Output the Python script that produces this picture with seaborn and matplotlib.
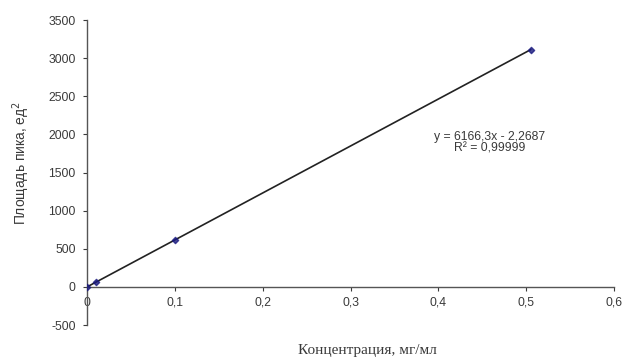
import numpy as np
import pandas as pd
import matplotlib
matplotlib.use('Agg')
import matplotlib.pyplot as plt
import seaborn as sns

conc = [0.0, 0.01, 0.1, 0.505]
area = [0.0, 59.0, 618.0, 3112.0]
x_ticks = [0, 0.1, 0.2, 0.3, 0.4, 0.5, 0.6]
y_ticks = [-500, 0, 500, 1000, 1500, 2000, 2500, 3000, 3500]

df = pd.DataFrame({'conc': conc, 'area': area})

sns.set_style('white')
plt.rcParams['font.family'] = ['Liberation Sans', 'DejaVu Sans']
plt.rcParams['axes.unicode_minus'] = False

fig = plt.figure(figsize=(6.3, 3.58), dpi=100)
ax = fig.add_axes([0.138, 0.092, 0.837, 0.852])

sns.regplot(data=df, x='conc', y='area', ax=ax, ci=None, truncate=True,
            marker='D', color='#1a1a6e',
            scatter_kws={'s': 10, 'color': '#1a1a80', 'zorder': 3},
            line_kws={'color': '#222222', 'lw': 1.2})

ax.set_xlim(0, 0.6)
ax.set_ylim(-500, 3500)
ax.set_xticks(x_ticks)
ax.set_xticklabels([f'{t:g}'.replace('.', ',') for t in x_ticks])
ax.set_yticks(y_ticks)
ax.tick_params(labelsize=8.8, colors='#3a3a3a', length=3, width=0.8, direction='out',
               bottom=True, left=True)
ax.tick_params(axis='x', pad=4)
ax.tick_params(axis='y', pad=5)

for s in ['top', 'right']:
    ax.spines[s].set_visible(False)
ax.spines['bottom'].set_position(('data', 0))
for s in ['bottom', 'left']:
    ax.spines[s].set_color('#555555')
    ax.spines[s].set_linewidth(1.0)

ax.set_xlabel('')
ax.set_ylabel('Площадь пика, ед$^2$', fontsize=10, color='#3a3a3a')
ax.yaxis.set_label_coords(-0.105, 0.53)
fig.text(0.583, 0.022, 'Концентрация, мг/мл', family=['Liberation Serif', 'DejaVu Serif'],
         fontsize=11, color='#3a3a3a', ha='center', va='center')

ax.text(0.458, 1890, 'y = 6166,3x - 2,2687\nR² = 0,99999',
        fontsize=8.8, color='#3a3a3a', ha='center', va='center', linespacing=1.0)

fig.savefig('out.png', dpi=100)
